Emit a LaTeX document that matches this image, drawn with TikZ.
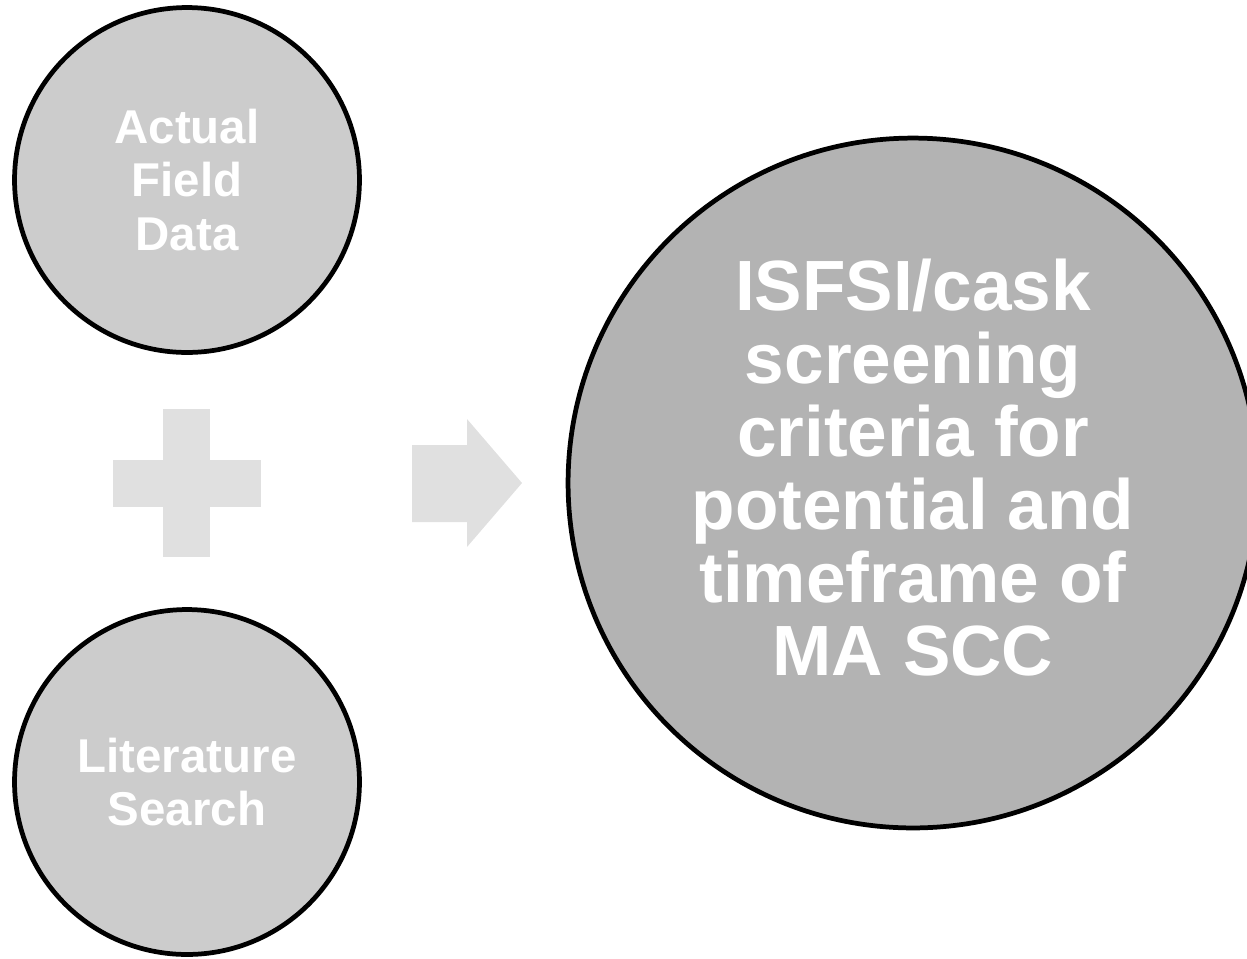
\documentclass[tikz,border=0pt]{standalone}
\usepackage{fontspec}
\setmainfont{Liberation Sans}
\usetikzlibrary{positioning}
\definecolor{smallgray}{HTML}{CCCCCC}
\definecolor{biggray}{HTML}{B3B3B3}
\definecolor{shapegray}{HTML}{E0E0E0}
\tikzset{
  source/.style={circle,draw=black,line width=2.7pt,fill=smallgray,minimum size=6.9cm,inner sep=0pt,align=center,text=white,font=\fontsize{27}{30.6}\selectfont\bfseries},
  result/.style={source,fill=biggray,minimum size=13.8cm,text depth=18pt,font=\fontsize{40.5}{41.5}\selectfont\bfseries},
  glyph/.style={fill=shapegray,draw=none}
}

\begin{document}
\begin{tikzpicture}[x=0.02cm,y=-0.02cm]
  \useasboundingbox (0,0) rectangle (1247,958);
  \clip (0,0) rectangle (1247,958);

  \node[source] (field) at (187,180) {Actual\\Field\\Data};
  \node[source] (lit) at (187,782) {Literature\\Search};
  \node[result] (criteria) at (913,483) {ISFSI/cask\\screening\\criteria for\\potential and\\timeframe of\\MA SCC};

  % plus sign
  \fill[glyph] (163,409) rectangle (210,557);
  \fill[glyph] (113,460) rectangle (261,507);
  % block arrow
  \fill[glyph] (412,445) -- (467,445) -- (467,419) -- (522,483) -- (467,547) -- (467,522) -- (412,522) -- cycle;
\end{tikzpicture}
\end{document}
